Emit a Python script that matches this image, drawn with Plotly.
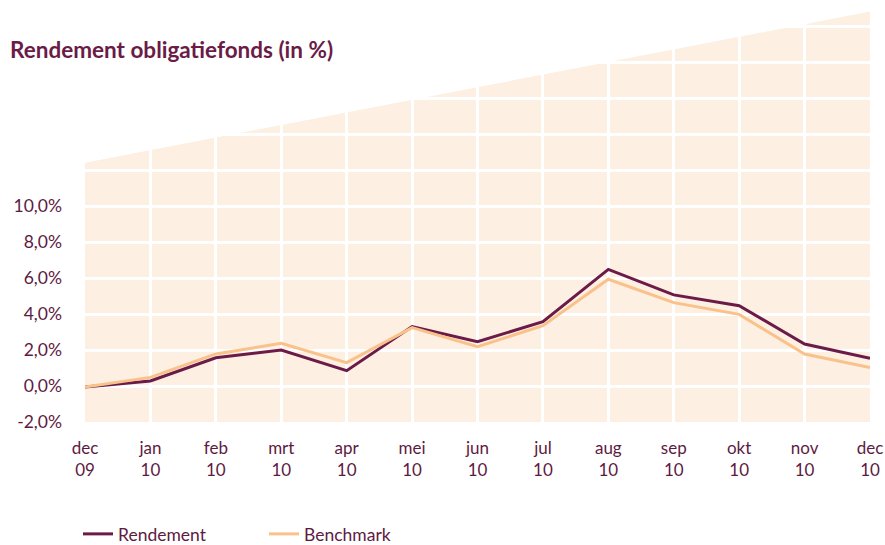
import plotly.graph_objects as go

purple = "#6a1b47"
peach_line = "#f8c28a"
area_color = "#fdefe2"
text_color = "#5e1a42"
font_family = "Lato, 'Open Sans', sans-serif"

maanden = ["dec<br>09", "jan<br>10", "feb<br>10", "mrt<br>10", "apr<br>10", "mei<br>10", "jun<br>10",
           "jul<br>10", "aug<br>10", "sep<br>10", "okt<br>10", "nov<br>10", "dec<br>10"]
rendement = [-0.05, 0.28, 1.57, 2.0, 0.85, 3.3, 2.46, 3.57, 6.48, 5.06, 4.46, 2.33, 1.54]
benchmark = [-0.05, 0.48, 1.78, 2.37, 1.3, 3.24, 2.19, 3.35, 5.93, 4.63, 3.98, 1.78, 1.02]

y_ticks = [-2, 0, 2, 4, 6, 8, 10, 12, 14, 16, 18, 20]
y_labels = ["-2,0%", "0,0%", "2,0%", "4,0%", "6,0%", "8,0%", "10,0%", "", "", "", "", ""]

# bovenrand van het gekleurde vlak (links en rechts)
vlak_links = 12.4
vlak_rechts = 20.8

x = list(range(len(maanden)))

W, H = 885, 545

fig = go.Figure()

fig.add_trace(go.Scatter(x=x, y=rendement, mode="lines", name="Rendement",
                         line=dict(color=purple, width=3)))
fig.add_trace(go.Scatter(x=x, y=benchmark, mode="lines", name="Benchmark",
                         line=dict(color=peach_line, width=3)))

# Schuin afgesneden achtergrondvlak, onder de gridlines
fig.add_shape(type="path", xref="x", yref="y", layer="below",
              path=f"M 0 -2 L {x[-1]} -2 L {x[-1]} {vlak_rechts} L 0 {vlak_links} Z",
              fillcolor=area_color, line=dict(width=0))

fig.update_layout(
    width=W, height=H,
    paper_bgcolor="white",
    plot_bgcolor="white",
    margin=dict(l=85, r=15, t=8, b=123),
    font=dict(family=font_family, color=text_color, size=17),
    title=dict(text="<b>Rendement obligatiefonds (in %)</b>", x=10 / W, xanchor="left",
               y=1 - 50 / H, yanchor="middle", yref="container",
               font=dict(size=22.5, color=purple, family=font_family)),
    xaxis=dict(
        range=[0, x[-1]],
        tickvals=x, ticktext=maanden,
        showgrid=True, gridcolor="white", gridwidth=3,
        zeroline=False, showline=False, automargin=False,
        ticks="", ticklabelstandoff=14,
        tickfont=dict(color=text_color, size=17),
    ),
    yaxis=dict(
        range=[-2, 21],
        tickvals=y_ticks, ticktext=y_labels,
        showgrid=True, gridcolor="white", gridwidth=3,
        zeroline=False, showline=False, automargin=False,
        ticks="", ticklabelstandoff=22,
        tickfont=dict(color=text_color, size=17.5),
    ),
    showlegend=True,
    legend=dict(
        orientation="h", xref="container", yref="container",
        x=78 / W, y=1 - 534 / H, xanchor="left", yanchor="middle",
        font=dict(color=text_color, size=17.5),
        entrywidth=141, entrywidthmode="pixels",
        bgcolor="rgba(0,0,0,0)",
    ),
)

# body-marge weg zodat de figuur precies in het venster past
fig.write_html("out.html", config={"displayModeBar": False},
               post_script="document.body.style.margin='0px';")
